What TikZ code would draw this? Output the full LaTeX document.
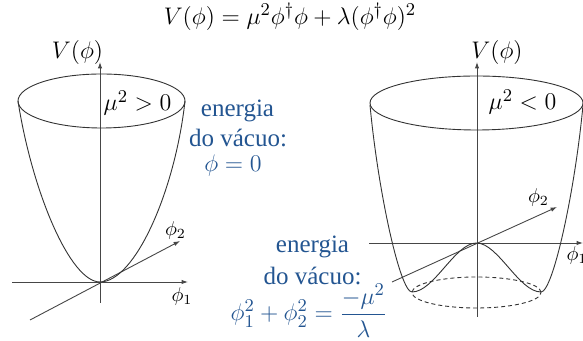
\documentclass[tikz,border=0pt]{standalone}
\usepackage{amsmath}
\usepackage{fontspec}
\newfontfamily\vacfont{Liberation Serif}
\usepackage{tikz}
\usetikzlibrary{arrows.meta,positioning}
\definecolor{pvblue}{RGB}{35,85,145}
\definecolor{pvaxis}{RGB}{70,70,70}
\tikzset{
  axis/.style={-{Latex[length=3.2pt,width=2.2pt]}, draw=pvaxis, line width=0.45pt},
  cup/.style={draw=black!80, line width=0.45pt},
  rim/.style={draw=black!80, line width=0.45pt},
  flr/.style={draw=black!80, line width=0.45pt, dash pattern=on 2pt off 1.5pt},
  lbl/.style={inner sep=0pt, font=\fontsize{11.5}{13}\selectfont},
  mu/.style={inner sep=0pt, font=\fontsize{12.5}{14}\selectfont},
  fi/.style={inner sep=0pt, font=\fontsize{10}{12}\selectfont},
  vac/.style={inner sep=0pt, anchor=base, text=pvblue, font=\fontsize{12.5}{15}\vacfont}
}
\begin{document}
\begin{tikzpicture}[x=0.5pt, y=0.5pt]
  \useasboundingbox (0,0) rectangle (583,341);
  % TITLE
  \node[inner sep=0pt, font=\fontsize{12.2}{14}\selectfont] (title) at (290,324)
    {$V(\phi) = \mu^2\phi^\dagger\phi + \lambda(\phi^\dagger\phi)^2$};
  % LEFT: mu^2 > 0
  \coordinate (oL) at (100,59);
  \coordinate (vLb) at (100,38);
  \coordinate (vLt) at (100,279);
  \coordinate (hLa) at (12,59);
  \coordinate (hLb) at (188,59);
  \coordinate (dLa) at (30,21);
  \coordinate (dLb) at (180,100);
  \draw[axis] (vLb) -- (vLt);
  \draw[axis] (hLa) -- (hLb);
  \draw[axis] (dLa) -- (dLb);
  \draw[rim] (101.5,240) ellipse [x radius=83.5, y radius=27];
  \draw[cup] (18,240) .. controls (32,150) and (70,59) .. (oL)
    .. controls (135,59) and (175,150) .. (185,240);
  \node[lbl] (VL) at (77.5,288) {$V(\phi)$};
  \node[mu] (muL) at (137.5,238) {$\mu^2 > 0$};
  \node[fi] (f2L) at (175.5,110) {$\phi_2$};
  \node[fi] (f1L) at (182,44) {$\phi_1$};
  \node[vac] (eL) at (237.5,224.3) {energia};
  \node[vac] (dL) at (238,194.3) {do vácuo:};
  \node[vac] (zL) at (233,169.3) {$\phi = 0$};
  % RIGHT: mu^2 < 0
  \coordinate (oR) at (476.5,98);
  \coordinate (vRb) at (477,24);
  \coordinate (vRt) at (477,279);
  \coordinate (hRa) at (369,98);
  \coordinate (hRb) at (583,98);
  \coordinate (dRa) at (392,59);
  \coordinate (dRb) at (557,134);
  \draw[axis] (vRb) -- (vRt);
  \draw[axis] (hRa) -- (hRb);
  \draw[axis] (dRa) -- (dRb);
  \draw[rim] (476.5,238) ellipse [x radius=106.5, y radius=27];
  \draw[flr] (476.5,48.5) ellipse [x radius=64.5, y radius=15.5];
  \draw[cup] (370,236) .. controls (378,150) and (400,49) .. (412,49)
    .. controls (434,49) and (455,98) .. (oR)
    .. controls (498,98) and (519,49) .. (541,49)
    .. controls (553,49) and (575,150) .. (583,236);
  \node[lbl] (VR) at (497,288) {$V(\phi)$};
  \node[mu] (muR) at (522.5,239) {$\mu^2 < 0$};
  \node[fi] (f2R) at (538.5,143.5) {$\phi_2$};
  \node[fi] (f1R) at (577,85) {$\phi_1$};
  \node[vac] (eR) at (312.5,88) {energia};
  \node[vac] (dR) at (312.5,56) {do vácuo:};
  \node[vac, anchor=center] (mR) at (309,30.5)
    {$\phi_1^2 + \phi_2^2 = \dfrac{-\mu^2}{\lambda}$};
\end{tikzpicture}
\end{document}
